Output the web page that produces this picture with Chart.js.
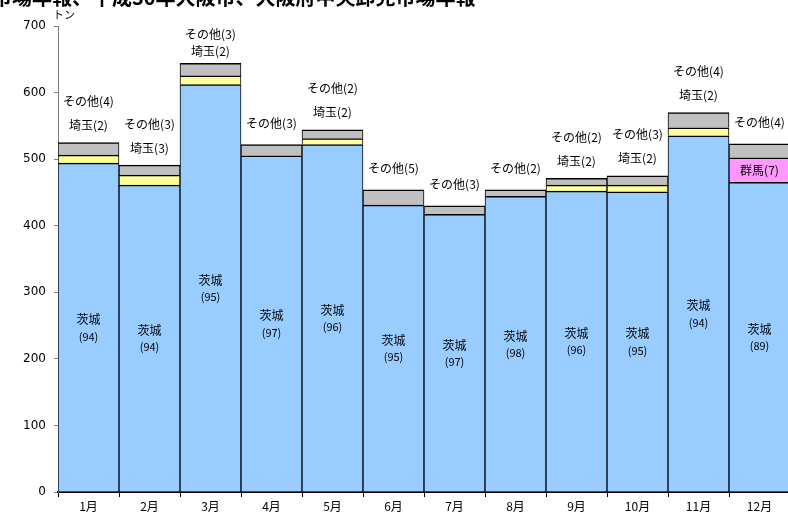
<!DOCTYPE html>
<html>
<head>
<meta charset="utf-8">
<script src="https://cdn.jsdelivr.net/npm/chart.js@4.4.1/dist/chart.umd.min.js"></script>
<style>
  html, body { margin: 0; padding: 0; background: #fff; overflow: hidden; }
  #wrap { position: relative; width: 792px; height: 518px; }
</style>
</head>
<body>
<div id="wrap"><canvas id="can" width="792" height="518"></canvas></div>
<script>
// データ
const months = ["1月", "2月", "3月", "4月", "5月", "6月", "7月", "8月", "9月", "10月", "11月", "12月"];
const ibaraki = [494, 461, 612, 505, 522, 431, 417, 444, 452, 451, 535, 465];
const gunma = [null, null, null, null, null, null, null, null, null, null, null, 37];
const saitama = [12, 15, 13, null, 9, null, null, null, 9, 10, 12, null];
const other = [19, 15, 19, 17, 13, 23, 13, 10, 10, 14, 23, 21];
// シェア（%）
const ibarakiPct = [94, 94, 95, 97, 96, 95, 97, 98, 96, 95, 94, 89];
const gunmaPct = [null, null, null, null, null, null, null, null, null, null, null, 7];
const saitamaPct = [2, 3, 2, null, 2, null, null, null, 2, 2, 2, null];
const otherPct = [4, 3, 3, 3, 2, 5, 3, 2, 2, 3, 4, 4];
const yTicks = [0, 100, 200, 300, 400, 500, 600, 700];
const titleText = "市場年報、平成30年大阪市、大阪府中央卸売市場年報";
const unitText = "トン";

const FONT = "'Noto Sans CJK JP', 'Noto Sans', sans-serif";

// ラベル描画用プラグイン
const labelPlugin = {
    id: "labels",
    afterDraw(chart) {
        const ctx = chart.ctx;
        const area = chart.chartArea;
        const m0 = chart.getDatasetMeta(0).data;
        const m1 = chart.getDatasetMeta(1).data;
        const m3 = chart.getDatasetMeta(3).data;
        ctx.save();
        ctx.fillStyle = "#000";
        ctx.textAlign = "center";
        ctx.textBaseline = "middle";
        for (let i = 0; i < months.length; i++) {
            const b = m0[i];
            const cx = b.x;
            const mid = (b.y + b.base) / 2;
            ctx.font = "12px " + FONT;
            ctx.fillText("茨城", cx, mid - 8);
            ctx.font = "11px " + FONT;
            ctx.fillText("(" + ibarakiPct[i] + ")", cx, mid + 9);
            if (gunmaPct[i] != null) {
                const g = m1[i];
                ctx.font = "12px " + FONT;
                ctx.fillText("群馬(" + gunmaPct[i] + ")", cx, (g.y + g.base) / 2);
            }
            const top = m3[i].y;
            ctx.font = "12px " + FONT;
            if (saitamaPct[i] != null) {
                let y1 = top - 17;
                let y2 = y1 - 24;
                if (y2 < area.top + 8) { y2 = area.top + 8; y1 = y2 + 17; }
                ctx.fillText("埼玉(" + saitamaPct[i] + ")", cx, y1);
                ctx.fillText("その他(" + otherPct[i] + ")", cx, y2);
            } else {
                ctx.fillText("その他(" + otherPct[i] + ")", cx, top - 21);
            }
        }
        // 単位・タイトル（上端で切れている）
        ctx.textAlign = "left";
        ctx.font = "11px " + FONT;
        ctx.fillText(unitText, 53, 15);
        ctx.font = "bold 20px " + FONT;
        ctx.textBaseline = "alphabetic";
        ctx.fillText(titleText, -8, 5);
        ctx.restore();
    }
};

const border = { top: 1.5, left: 1, right: 1, bottom: 0 };
function ds(label, data, color) {
    return {
        label: label,
        data: data,
        backgroundColor: color,
        borderColor: "#000",
        borderWidth: border,
        borderSkipped: false
    };
}

new Chart(document.getElementById("can"), {
    type: "bar",
    data: {
        labels: months,
        datasets: [
            ds("茨城", ibaraki, "#99CCFF"),
            ds("群馬", gunma, "#FF99FF"),
            ds("埼玉", saitama, "#FFFF99"),
            ds("その他", other, "#C0C0C0")
        ]
    },
    options: {
        responsive: false,
        animation: false,
        devicePixelRatio: 1,
        layout: { padding: { top: 26, right: 2, left: 0, bottom: 0 } },
        datasets: { bar: { categoryPercentage: 1, barPercentage: 1 } },
        plugins: {
            legend: { display: false },
            tooltip: { enabled: false }
        },
        scales: {
            x: {
                stacked: true,
                grid: { display: true, drawOnChartArea: false, offset: true, color: "#000", tickLength: 5, lineWidth: 1 },
                border: { color: "#000", width: 2 },
                ticks: { color: "#000", font: { family: FONT, size: 12 }, padding: 2, maxRotation: 0, autoSkip: false },
                afterFit(s) { s.height = 26; }
            },
            y: {
                stacked: true,
                min: yTicks[0],
                max: yTicks[yTicks.length - 1],
                grid: { display: true, drawOnChartArea: false, color: "#808080", tickLength: 4 },
                border: { color: "#808080", width: 1 },
                ticks: { stepSize: 100, color: "#000", font: { family: "'DejaVu Sans', 'Noto Sans', sans-serif", size: 12 }, padding: 8 },
                afterFit(s) { s.width = 58; }
            }
        }
    },
    plugins: [labelPlugin]
});
</script>
</body>
</html>
